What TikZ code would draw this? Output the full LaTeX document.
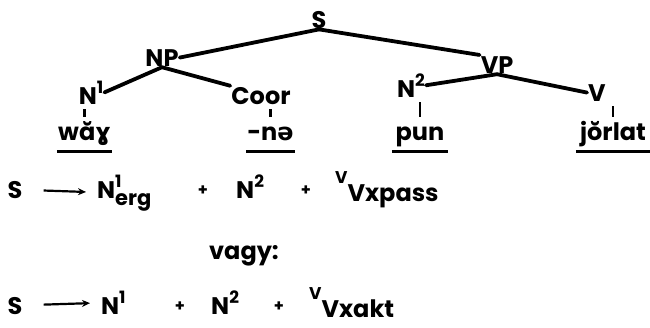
\documentclass[tikz,border=0pt]{standalone}
\usepackage{fontspec}
\setmainfont{Poppins}
\newfontfamily\ipafont{DejaVu Sans}
\usepackage{tikz}
\usetikzlibrary{positioning, arrows.meta}
\newcommand{\hsup}[1]{\raisebox{0.45em}{\fontsize{17}{17}\selectfont #1}}
\newcommand{\hsubsup}[2]{\raisebox{-0.32em}{\fontsize{21}{18}\selectfont
  \begin{tabular}[b]{@{}l@{}}{\fontsize{17}{17}\selectfont #1}\\#2\end{tabular}}}
\newcommand{\vsub}[1]{\raisebox{0.6em}{\fontsize{17}{17}\selectfont V}\raisebox{-0.15em}{#1}}

\begin{document}
\begin{tikzpicture}[
  x=1pt, y=-1pt,
  every node/.style={font=\fontsize{24}{28}\selectfont\bfseries, inner sep=1pt},
  head/.style={anchor=base},
  word/.style={anchor=base, text height=19pt, text depth=4pt},
  plus/.style={font=\fontsize{16}{16}\selectfont\bfseries},
  edge/.style={line width=3.8pt, line cap=round},
  tick/.style={line width=2.5pt, shorten <=4pt, shorten >=3pt},
  uline/.style={line width=3pt},
  arr/.style={-{Stealth[length=8pt, width=7pt]}, line width=2.2pt,
              shorten <=20pt, shorten >=10pt}
]
\useasboundingbox (0,0) rectangle (650,327);

% tree
\node[head] (s)    at (319,28)  {S};
\node[head] (np)   at (162,66)  {NP};
\node[head] (vp)   at (497,73)  {VP};
\node[head] (n1)   at (91,104)  {N\hsup{1}};
\node[head] (coor) at (261,104) {Coor};
\node[head] (n2)   at (411,97)  {N\hsup{2}};
\node[head] (v)    at (597,101) {V};

\node[word, minimum width=55pt] (w1) at (84.5,140) {wă{\ipafont ɣ}};
\node[word, minimum width=45pt] (w2) at (270.5,140) {-n{\ipafont ə}};
\node[word, minimum width=56pt] (w3) at (420,140) {pun};
\node[word, minimum width=74pt] (w4) at (613,140) {jŏrlat};

\draw[edge] (s.south)  -- (np.east);
\draw[edge] (s.south)  -- (vp.north west);
\draw[edge] (np.south) -- (n1.east);
\draw[edge] (np.south) -- (coor.north west);
\draw[edge] (vp.south) -- (n2.east);
\draw[edge] (vp.south) -- (v.west);

\draw[tick] (w1.north |- n1.south)   -- (w1.north);
\draw[tick] (w2.north |- coor.south) -- (w2.north);
\draw[tick] (w3.north |- n2.south)   -- (w3.north);
\draw[tick] (w4.north |- v.south)    -- (w4.north);

\draw[uline] ([yshift=-11pt]w1.base west) -- ([yshift=-11pt]w1.base east);
\draw[uline] ([yshift=-11pt]w2.base west) -- ([yshift=-11pt]w2.base east);
\draw[uline] ([yshift=-11pt]w3.base west) -- ([yshift=-11pt]w3.base east);
\draw[uline] ([yshift=-11pt]w4.base west) -- ([yshift=-11pt]w4.base east);

% rules
\node[head] (r1s) at (15,198) {S};
\node[anchor=base west] (r1n1) at (96,198)  {N\hsubsup{1}{erg}};
\node[plus] (r1p1) at (203,191) {+};
\node[anchor=base west] (r1n2) at (235,198) {N\hsup{2}};
\node[plus] (r1p2) at (306,191) {+};
\node[anchor=base west] (r1v)  at (334,198) {\vsub{Vxpass}};
\draw[arr] (r1s) -- (r1n1);

\node[head] (vagy) at (244,259) {vagy:};

\node[head] (r2s) at (15,314) {S};
\node[anchor=base west] (r2n1) at (100,314) {N\hsup{1}};
\node[plus] (r2p1) at (180,307) {+};
\node[anchor=base west] (r2n2) at (210,314) {N\hsup{2}};
\node[plus] (r2p2) at (279,307) {+};
\node[anchor=base west] (r2v)  at (308,314) {\vsub{Vxakt}};
\draw[arr] (r2s) -- (r2n1);
\end{tikzpicture}
\end{document}
